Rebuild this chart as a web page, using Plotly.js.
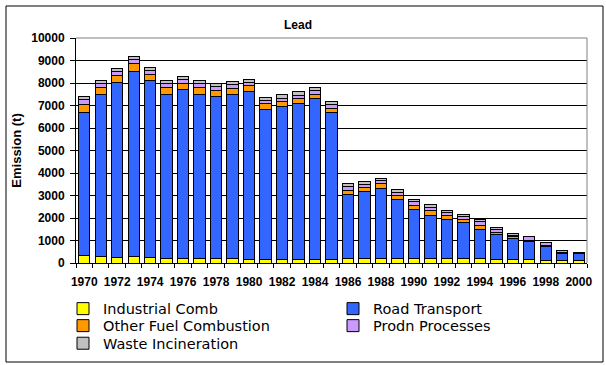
<!DOCTYPE html>
<html>
<head>
<meta charset="utf-8">
<script src="https://cdn.plot.ly/plotly-3.0.1.min.js"></script>
<style>
html,body{margin:0;padding:0;background:#fff;}
#chart{width:606px;height:365px;}
</style>
</head>
<body>
<div id="chart"></div>
<script>
var years = [1970,1971,1972,1973,1974,1975,1976,1977,1978,1979,1980,1981,1982,1983,1984,1985,1986,1987,1988,1989,1990,1991,1992,1993,1994,1995,1996,1997,1998,1999,2000];
var industrialComb = [350,300,250,300,250,200,200,200,200,200,160,160,160,160,160,160,200,200,200,200,200,200,200,200,200,160,150,150,120,120,120];
var roadTransport = [6350,7200,7790,8230,7880,7300,7530,7300,7215,7300,7480,6680,6810,6945,7165,6545,2855,2990,3120,2635,2190,1930,1750,1580,1310,1115,950,825,620,310,310];
var otherFuel = [355,300,310,356,267,311,267,311,267,267,267,267,223,222,178,178,178,178,222,177,178,185,140,148,148,80,60,20,30,20,15];
var prodnProcesses = [193,179,178,178,178,178,178,178,178,178,134,133,133,134,178,178,178,134,134,134,178,140,155,119,178,140,70,180,130,100,10];
var wasteIncineration = [133,148,134,133,133,134,134,134,133,133,133,134,178,177,133,134,133,133,89,133,89,125,110,103,89,100,70,25,30,28,20];
var seriesNames = ['Industrial Comb','Road Transport','Other Fuel Combustion','Prodn Processes','Waste Incineration'];
var seriesColors = ['#FFFF00','#3366FF','#FF9900','#CC99FF','#C0C0C0'];
var seriesLegends = ['legend','legend2','legend3','legend4','legend5'];
var seriesValues = [industrialComb, roadTransport, otherFuel, prodnProcesses, wasteIncineration];
var yTicks = [0,1000,2000,3000,4000,5000,6000,7000,8000,9000,10000];
var xLabels = years.map(function(y){ return (y % 2 === 0) ? String(y) : ''; });

var traces = seriesValues.map(function(vals, i){
  return {
    type: 'bar',
    name: seriesNames[i],
    legend: seriesLegends[i],
    x: years.map(String),
    y: vals,
    marker: {color: seriesColors[i], line: {color: '#000000', width: 1}},
    hoverinfo: 'x+y+name'
  };
});

var tickFont = {family: 'Liberation Sans, Arial, sans-serif', size: 12, color: '#000', weight: 'bold'};
var legendFont = {family: 'DejaVu Sans, Verdana, sans-serif', size: 14.5, color: '#000'};

function legendBox(xPx, yPx) {
  return {
    orientation: 'h',
    xref: 'container', yref: 'container',
    x: xPx/606, xanchor: 'left',
    y: 1 - yPx/365, yanchor: 'middle',
    font: legendFont,
    bgcolor: 'rgba(0,0,0,0)'
  };
}

var layout = {
  width: 606, height: 365,
  margin: {l: 76, r: 19, t: 38, b: 102},
  paper_bgcolor: '#ffffff',
  plot_bgcolor: '#ffffff',
  barmode: 'stack',
  bargap: 0.31,
  showlegend: true,
  title: {
    text: '<b>Lead</b>',
    font: {family: 'Liberation Sans, Arial, sans-serif', size: 12, color: '#000'},
    x: 298/606, xanchor: 'center', xref: 'container',
    y: 1 - 25/365, yanchor: 'middle', yref: 'container'
  },
  xaxis: {
    type: 'category',
    tickmode: 'array',
    tickvals: years.map(String),
    ticktext: xLabels,
    tickson: 'boundaries',
    ticks: 'outside', ticklen: 4, tickcolor: '#000', tickwidth: 1,
    ticklabelstandoff: 8,
    showline: true, linecolor: '#000', linewidth: 1,
    showgrid: false,
    tickfont: tickFont,
    tickangle: 0,
    automargin: false
  },
  yaxis: {
    range: [0, 10000],
    tickmode: 'array',
    tickvals: yTicks,
    ticktext: yTicks.map(String),
    ticks: 'outside', ticklen: 5, tickcolor: '#000', tickwidth: 1,
    ticklabelstandoff: 3,
    showline: true, linecolor: '#000', linewidth: 1,
    showgrid: true, gridcolor: '#000', gridwidth: 1,
    zeroline: false,
    tickfont: tickFont,
    automargin: false,
    title: {
      text: 'Emission (t)',
      font: {family: 'Liberation Sans, Arial, sans-serif', size: 13, color: '#000', weight: 'bold'},
      standoff: 6
    }
  },
  legend: legendBox(63, 308.7),
  legend2: legendBox(333, 308.7),
  legend3: legendBox(63, 325.7),
  legend4: legendBox(333, 325.7),
  legend5: legendBox(63, 343.3),
  shapes: [
    {type: 'line', xref: 'paper', yref: 'paper', x0: 0, x1: 1, y0: 1, y1: 1, line: {color: '#808080', width: 1}, layer: 'above'},
    {type: 'line', xref: 'paper', yref: 'paper', x0: 1, x1: 1, y0: 0, y1: 1, line: {color: '#808080', width: 1}, layer: 'above'},
    {type: 'rect', xref: 'paper', yref: 'paper',
     x0: (6-76)/511, x1: (603-76)/511, y0: (263-362)/225, y1: (263-6)/225,
     line: {color: '#000', width: 1}, fillcolor: 'rgba(0,0,0,0)', layer: 'above'}
  ]
};

Plotly.newPlot('chart', traces, layout, {displayModeBar: false, staticPlot: true});
</script>
</body>
</html>
